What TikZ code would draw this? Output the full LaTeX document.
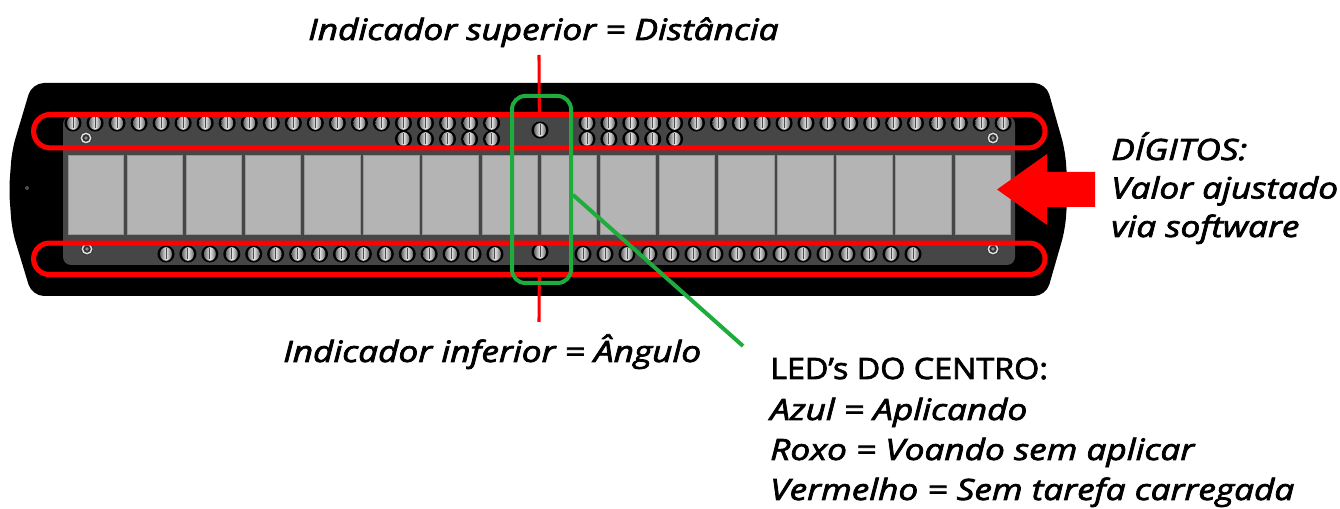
\documentclass[tikz,border=0pt]{standalone}
\usepackage{fontspec}
\setmainfont{Open Sans}[FakeStretch=1.2, FakeBold=2.6]
\newfontfamily\uprfont{Open Sans}[FakeStretch=1.1, FakeBold=2.6]
\usetikzlibrary{shapes.misc}
\definecolor{mred}{RGB}{255,0,0}
\definecolor{mgreen}{RGB}{30,172,60}
\definecolor{panelgray}{RGB}{70,70,70}
\definecolor{digitgray}{RGB}{180,180,180}
\definecolor{digitedge}{RGB}{150,150,150}
\newcommand{\ledat}[2]{%
  \fill[black] (#1,#2) circle[radius=6.4pt];
  \shade[left color=black!60, right color=black!60, middle color=white!92!black] (#1,#2) ellipse[x radius=4.5pt, y radius=5.1pt];
  \draw[black!70, line width=0.7pt] (#1,#2) ++(0,-5.5) -- ++(0,11);
}
\newcommand{\screwat}[2]{%
  \fill[black!80] (#1,#2) circle[radius=4.6pt];
  \draw[white!88!black, line width=1.1pt] (#1,#2) circle[radius=3.5pt];
  \fill[black!45] (#1,#2) circle[radius=1.4pt];
}
\begin{document}
\begin{tikzpicture}[x=0.75pt,y=-0.75pt,
  lbl/.style={font=\fontsize{22}{26}\selectfont\itshape, inner sep=0pt, anchor=base west},
  lblup/.style={font=\uprfont\fontsize{22}{26}\selectfont, inner sep=0pt, anchor=base west},
  loop/.style={draw=mred, line width=3.8pt, rounded rectangle, inner sep=0pt},
  ledframe/.style={draw=mgreen, line width=3pt, rounded corners=10pt, inner sep=0pt, minimum width=44.25pt, minimum height=140.25pt},
  redline/.style={draw=mred, line width=2.3pt},
  greenline/.style={draw=mgreen, line width=3pt}]
\useasboundingbox (0,0) rectangle (1340,509);
% body
\fill[black, rounded corners=9pt] (32,83) -- (1046,83) -- (1065,150) -- (1068,190) -- (1065,230) -- (1046,296) -- (32,296) -- (12,230) -- (9,190) -- (12,150) -- cycle;
\fill[black!70] (27,188) circle[radius=1.5pt];
% panel
\fill[panelgray, rounded corners=6pt] (63,116) rectangle (1015,265);
% digits
\foreach \i in {0,...,15} {
  \filldraw[fill=digitgray, draw=digitedge, line width=0.6pt] ({68+59.13*\i},155.5) rectangle ++(55.5,78.5);
}
% top LEDs
\foreach \i in {0,...,19} { \ledat{73+22.03*\i}{123} }
\foreach \i in {15,...,19} { \ledat{73+22.03*\i}{139} }
\foreach \i in {0,...,19} { \ledat{587+21.9*\i}{123} }
\foreach \i in {0,...,4} { \ledat{587+21.9*\i}{139} }
\ledat{540}{130}
% bottom LEDs
\foreach \i in {0,...,15} { \ledat{166+21.93*\i}{254} }
\foreach \i in {0,...,15} { \ledat{583+22*\i}{254} }
\ledat{540}{252}
% screws
\screwat{86}{138}
\screwat{993}{138}
\screwat{87}{249}
\screwat{993}{249}
% red loops
\node[loop, minimum width=758.6pt, minimum height=25.1pt] (toploop) at (539.3,131.2) {};
\node[loop, minimum width=758.6pt, minimum height=23.6pt] (botloop) at (539.3,258.8) {};
% red indicator lines
\coordinate (topend) at (539,55);
\coordinate (botend) at (539,322);
\draw[redline] (topend) -- (toploop.north);
\draw[redline] (botloop.south) -- (botend);
% green frame
\node[ledframe] (ledbox) at (541.5,189.5) {};
% red arrow
\fill[mred] (997,189.5) -- (1047,154) -- (1047,172) -- (1095,172) -- (1095,207) -- (1047,207) -- (1047,225) -- cycle;
% labels
\node[lbl] (sup) at (308,40) {Indicador superior = Distância};
\node[lbl] (inf) at (283,362) {Indicador inferior = Ângulo};
\node[lbl] (dig1) at (1111,160) {DÍGITOS:};
\node[lbl] (dig2) at (1111,198.5) {Valor ajustado};
\node[lbl] (dig3) at (1111,237) {via software};
\node[lblup] (led1) at (770,379) {LED’s DO CENTRO:};
\node[lbl] (led2) at (770,420) {Azul = Aplicando};
\node[lbl] (led3) at (770,460) {Roxo = Voando sem aplicar};
\node[lbl] (led4) at (770,500) {Vermelho = Sem tarefa carregada};
% green connector
\coordinate (gend) at (743,346);
\draw[greenline] ([yshift=-4pt]ledbox.east) -- (gend);
\end{tikzpicture}
\end{document}
